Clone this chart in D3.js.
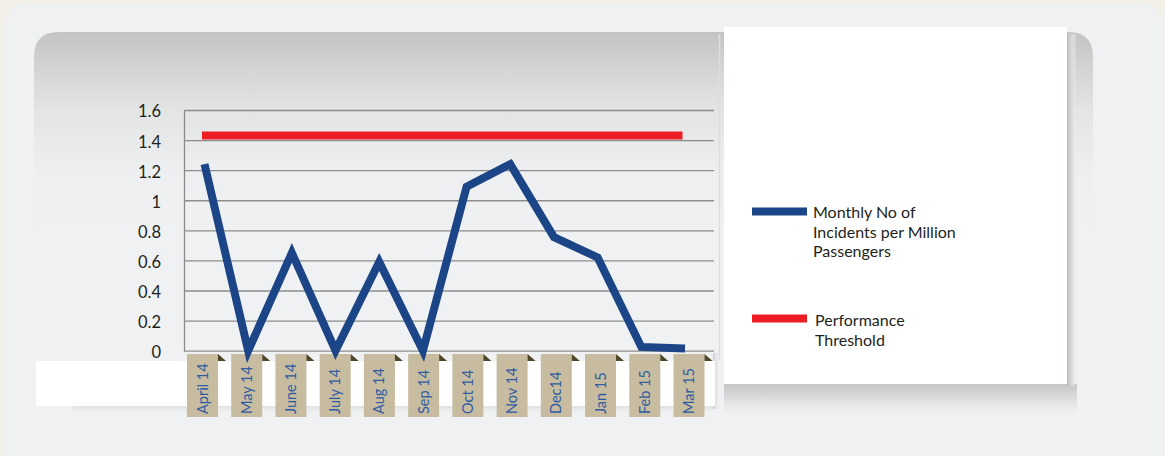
<!DOCTYPE html>
<html>
<head>
<meta charset="utf-8">
<script src="https://cdn.jsdelivr.net/npm/d3@7"></script>
<style>
  html, body { margin: 0; padding: 0; background: #f3f0e7; }
  svg { display: block; }
  text { font-family: Lato, "Noto Sans", sans-serif; }
</style>
</head>
<body>
<svg id="chart" width="1165" height="456"></svg>
<script>
// Monthly incident rate per million passengers, FY April 2014 – March 2015
const months = ["April 14", "May 14", "June 14", "July 14", "Aug 14", "Sep 14",
                "Oct 14", "Nov 14", "Dec14", "Jan 15", "Feb 15", "Mar 15"];
const incidents = [1.24, 0, 0.65, 0, 0.59, 0, 1.09, 1.24, 0.755, 0.62, 0.025, 0.015];
const threshold = 1.43;
const yTicks = [0, 0.2, 0.4, 0.6, 0.8, 1, 1.2, 1.4, 1.6];
const seriesNames = [["Monthly No of", "Incidents per Million", "Passengers"],
                     ["Performance", "Threshold"]];
const seriesColors = ["#1b4586", "#ee1d24"];

const svg = d3.select("#chart");
const defs = svg.append("defs");

function vGrad(id, y1, y2, stops) {
  const g = defs.append("linearGradient").attr("id", id)
    .attr("gradientUnits", "userSpaceOnUse")
    .attr("x1", 0).attr("x2", 0).attr("y1", y1).attr("y2", y2);
  stops.forEach(([o, c, a]) => g.append("stop").attr("offset", o)
    .attr("stop-color", c).attr("stop-opacity", a == null ? 1 : a));
}
function hGrad(id, x1, x2, stops) {
  const g = defs.append("linearGradient").attr("id", id)
    .attr("gradientUnits", "userSpaceOnUse")
    .attr("x1", x1).attr("x2", x2).attr("y1", 0).attr("y2", 0);
  stops.forEach(([o, c, a]) => g.append("stop").attr("offset", o)
    .attr("stop-color", c).attr("stop-opacity", a == null ? 1 : a));
}

vGrad("panelGrad", 32, 250, [[0, "#c3c3c2"], [0.18, "#d5d5d5"], [0.36, "#e3e4e4"],
                             [0.65, "#eeeff0"], [1, "#f0f1f3"]]);
vGrad("legendShadowB", 384, 418, [[0, "#c6c6c6"], [0.5, "#dfe0e1"], [1, "#f0f1f3", 0]]);
hGrad("legendShadowR", 1067, 1077, [[0, "#bdbdbd"], [0.5, "#dadbdc"], [1, "#f0f1f3", 0]]);
vGrad("stripShadow", 406, 414, [[0, "#dedfe0"], [1, "#f0f1f3", 0]]);
hGrad("stripShadowR", 713, 720, [[0, "#cfd0d1"], [1, "#e8e9ea", 0]]);

// page frame
svg.append("rect").attr("x", 4).attr("y", 3).attr("width", 1159).attr("height", 470)
  .attr("rx", 22).attr("fill", "#f0f1f3");

// grey card behind the chart, rounded on top
svg.append("path")
  .attr("d", "M34,460 L34,57 Q34,32 59,32 L1068,32 Q1093,32 1093,57 L1093,460 Z")
  .attr("fill", "url(#panelGrad)");
svg.append("line").attr("x1", 719.5).attr("x2", 719.5).attr("y1", 34).attr("y2", 360)
  .attr("stroke", "#dcdddd").attr("stroke-width", 1.5);

// white strip under the category labels
svg.append("rect").attr("x", 73).attr("y", 406).attr("width", 642).attr("height", 8)
  .attr("fill", "url(#stripShadow)");
svg.append("rect").attr("x", 713).attr("y", 353).attr("width", 7).attr("height", 56)
  .attr("fill", "url(#stripShadowR)");
svg.append("rect").attr("x", 36).attr("y", 361).attr("width", 679).attr("height", 45)
  .attr("fill", "#ffffff");

// legend card with its shadow
svg.append("rect").attr("x", 724).attr("y", 384).attr("width", 353).attr("height", 34)
  .attr("fill", "url(#legendShadowB)");
svg.append("rect").attr("x", 1067).attr("y", 34).attr("width", 10).attr("height", 352)
  .attr("fill", "url(#legendShadowR)");
svg.append("rect").attr("x", 724).attr("y", 27).attr("width", 343).attr("height", 357)
  .attr("fill", "#ffffff");

// scales
const x = d3.scalePoint().domain(months).range([204.5, 685]);
const xLabel = d3.scalePoint().domain(months).range([202.5, 689]);
const y = d3.scaleLinear().domain([0, 1.6]).range([350.7, 110]);
const gridRight = 714;

// y axis with gridlines
const yAxis = svg.append("g").attr("transform", "translate(184,0)")
  .call(d3.axisLeft(y).tickValues(yTicks).tickFormat(d3.format(""))
    .tickSizeInner(-(gridRight - 184)).tickSizeOuter(0).tickPadding(23));
yAxis.select(".domain").attr("stroke", "#8a8a8a").attr("stroke-width", 1.3);
yAxis.selectAll(".tick line").attr("stroke", "#8c8c8c").attr("stroke-width", 1.3);
yAxis.selectAll(".tick text").attr("fill", "#231f20").attr("font-size", 16.5)
  .attr("dy", "0.42em");

// category labels on tan tabs
const tabW = 31, tabTop = 354, tabBottom = 417;
const tabs = svg.append("g").selectAll("g").data(months).join("g")
  .attr("transform", d => `translate(${xLabel(d)},0)`);
tabs.append("rect").attr("x", -tabW / 2).attr("y", tabTop)
  .attr("width", tabW).attr("height", tabBottom - tabTop).attr("fill", "#c8bca0");
tabs.append("path")
  .attr("d", `M${tabW / 2},${tabTop} L${tabW / 2 + 8},${tabTop + 7} L${tabW / 2},${tabTop + 7} Z`)
  .attr("fill", "#4e4729");
tabs.append("text")
  .attr("transform", `translate(5,414) rotate(-90)`)
  .attr("fill", "#2f5ca2").attr("font-size", 14.5)
  .text(d => d);

// threshold line
const line = d3.line().x(d => x(d[0])).y(d => y(d[1]));
svg.append("path")
  .datum(months.map(m => [m, threshold]))
  .attr("d", line).attr("transform", "translate(-2.5,0)")
  .attr("fill", "none").attr("stroke", seriesColors[1]).attr("stroke-width", 8);

// incidents line
svg.append("path")
  .datum(months.map((m, i) => [m, incidents[i]]))
  .attr("d", line)
  .attr("fill", "none").attr("stroke", seriesColors[0]).attr("stroke-width", 8)
  .attr("stroke-linejoin", "miter").attr("stroke-miterlimit", 10);

// legend
const legendRows = [{ sw: 211.5, tx: 813, ty: 218 }, { sw: 318.5, tx: 815, ty: 326 }];
const legend = svg.append("g").selectAll("g").data(seriesNames).join("g");
legend.append("rect")
  .attr("x", 752).attr("width", 55).attr("height", 8)
  .attr("y", (d, i) => legendRows[i].sw - 4)
  .attr("fill", (d, i) => seriesColors[i]);
legend.append("text")
  .attr("fill", "#231f20").attr("font-size", 16)
  .attr("y", (d, i) => legendRows[i].ty)
  .each(function (lines, i) {
    d3.select(this).selectAll("tspan").data(lines).join("tspan")
      .attr("x", legendRows[i].tx)
      .attr("dy", (l, j) => j === 0 ? 0 : 19.6)
      .text(l => l);
  });
</script>
</body>
</html>
